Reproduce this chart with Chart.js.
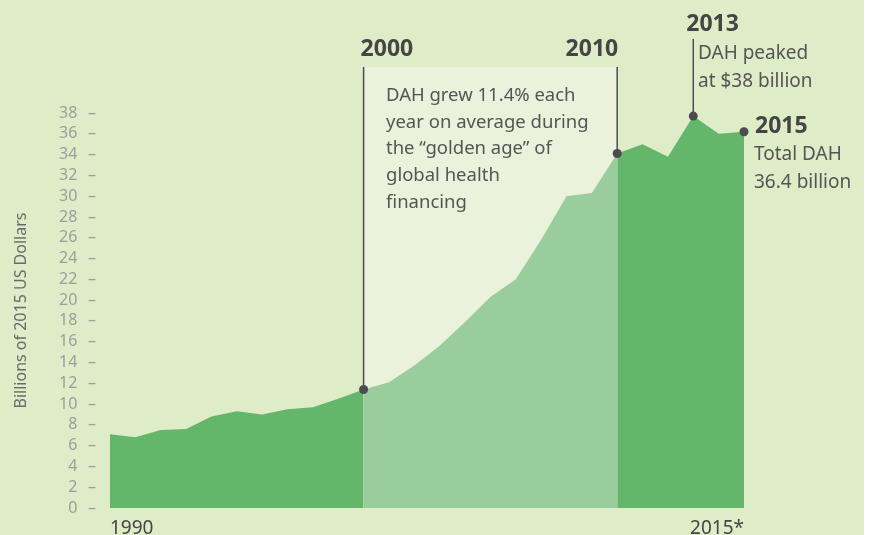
<!DOCTYPE html>
<html>
<head>
<meta charset="utf-8">
<style>
  body { margin: 0; background: #ffffff; }
  canvas { display: block; }
</style>
<script src="https://cdn.jsdelivr.net/npm/chart.js@4.4.1/dist/chart.umd.min.js"></script>
</head>
<body>
<canvas id="dahChart" width="871" height="535"></canvas>
<script>
// Development assistance for health, billions of 2015 US dollars
const years = [1990, 1991, 1992, 1993, 1994, 1995, 1996, 1997, 1998, 1999, 2000, 2001, 2002,
               2003, 2004, 2005, 2006, 2007, 2008, 2009, 2010, 2011, 2012, 2013, 2014, 2015];
const dah = [7.1, 6.8, 7.5, 7.6, 8.8, 9.3, 9.0, 9.5, 9.7, 10.5, 11.4, 12.1, 13.7,
             15.6, 17.9, 20.3, 22.0, 25.8, 30.0, 30.3, 34.1, 35.0, 33.8, 37.7, 36.0, 36.2];
const yTicks = [0, 2, 4, 6, 8, 10, 12, 14, 16, 18, 20, 22, 24, 26, 28, 30, 32, 34, 36, 38];
const xTicks = [1990, 2015];

const darkGreen = '#64b66b';
const lightGreen = '#9acd9e';
const ink = '#454545';
const FONT = '"Noto Sans", "Open Sans", sans-serif';

Chart.defaults.font.family = FONT;

function points(from, to) {
    const out = [];
    years.forEach((yr, i) => {
        if (yr >= from && yr <= to) out.push({ x: yr, y: dah[i] });
    });
    return out;
}

// background, golden age band, callouts
const decor = {
    id: 'decor',
    beforeDraw(chart) {
        const ctx = chart.ctx;
        ctx.save();
        ctx.fillStyle = '#deecc8';
        ctx.fillRect(0, 0, 864, chart.height);
        ctx.restore();
    },
    beforeDatasetsDraw(chart) {
        const { ctx, scales: { x }, chartArea } = chart;
        ctx.save();
        ctx.fillStyle = '#eaf2dc';
        const x0 = x.getPixelForValue(2000), x1 = x.getPixelForValue(2010);
        ctx.fillRect(x0, 67, x1 - x0, chartArea.bottom - 67);
        ctx.restore();
    },
    afterDatasetsDraw(chart) {
        const { ctx, scales: { x, y } } = chart;
        const at = yr => ({ px: x.getPixelForValue(yr), py: y.getPixelForValue(dah[years.indexOf(yr)]) });
        const p2000 = at(2000), p2010 = at(2010), p2013 = at(2013), p2015 = at(2015);
        ctx.save();
        ctx.strokeStyle = '#4b4b50';
        ctx.lineWidth = 1.5;
        [[p2000, 67], [p2010, 67], [p2013, 39]].forEach(([p, top]) => {
            ctx.beginPath();
            ctx.moveTo(p.px, top);
            ctx.lineTo(p.px, p.py);
            ctx.stroke();
        });
        ctx.fillStyle = '#4b4b50';
        [p2000, p2010, p2013, p2015].forEach(p => {
            ctx.beginPath();
            ctx.arc(p.px, p.py, 4.5, 0, Math.PI * 2);
            ctx.fill();
        });

        ctx.fillStyle = ink;
        ctx.textBaseline = 'alphabetic';
        ctx.font = 'bold 23px ' + FONT;
        ctx.textAlign = 'left';
        ctx.fillText('2000', p2000.px - 3, 56);
        ctx.textAlign = 'right';
        ctx.fillText('2010', p2010.px + 1, 56);
        ctx.textAlign = 'left';
        ctx.fillText('2013', p2013.px - 7, 31);
        ctx.fillText('2015', p2015.px + 11, 133);

        ctx.fillStyle = '#555555';
        ctx.font = '18.5px ' + FONT;
        const golden = ['DAH grew 11.4% each', 'year on average during', 'the \u201cgolden age\u201d of',
                        'global health', 'financing'];
        golden.forEach((t, i) => ctx.fillText(t, 386, 101 + i * 26.7));
        ctx.font = '19px ' + FONT;
        ['DAH peaked', 'at $38 billion'].forEach((t, i) => ctx.fillText(t, 698, 59 + i * 28));
        ['Total DAH', '36.4 billion'].forEach((t, i) => ctx.fillText(t, 754, 160 + i * 28));
        ctx.restore();
    }
};

const ctx = document.getElementById('dahChart').getContext('2d');
const dahChart = new Chart(ctx, {
    type: 'line',
    data: {
        datasets: [
            { data: points(1990, 2000), backgroundColor: darkGreen },
            { data: points(2000, 2010), backgroundColor: lightGreen },
            { data: points(2010, 2015), backgroundColor: darkGreen }
        ].map(d => Object.assign(d, { fill: 'origin', borderWidth: 0, pointRadius: 0, tension: 0 }))
    },
    options: {
        responsive: false,
        animation: false,
        devicePixelRatio: 1,
        layout: { padding: { top: 113, right: 127, left: 0, bottom: 0 } },
        plugins: { legend: { display: false }, tooltip: { enabled: false } },
        scales: {
            x: {
                type: 'linear',
                min: 1990,
                max: 2015,
                grid: { display: false, drawTicks: false },
                border: { display: false },
                afterBuildTicks: s => { s.ticks = xTicks.map(v => ({ value: v })); },
                afterFit: s => { s.height = 27; },
                ticks: {
                    align: 'inner',
                    autoSkip: false,
                    maxRotation: 0,
                    padding: 9,
                    color: ink,
                    font: { size: 19 },
                    callback: v => (v === 2015 ? '2015*' : String(v))
                }
            },
            y: {
                min: 0,
                max: 38,
                grid: { display: false, drawTicks: false },
                border: { display: false },
                afterBuildTicks: s => { s.ticks = yTicks.map(v => ({ value: v })); },
                afterFit: s => { s.width = 110; },
                ticks: {
                    autoSkip: false,
                    padding: 14,
                    color: '#9d9d9d',
                    font: { size: 16, lineHeight: 1 },
                    callback: v => v + '\u2002\u2009\u2013'
                },
                title: {
                    display: true,
                    text: 'Billions of 2015 US Dollars',
                    color: '#6a6a6a',
                    font: { size: 16 },
                    padding: { top: 12, bottom: 0 }
                }
            }
        }
    },
    plugins: [decor]
});
</script>
</body>
</html>
